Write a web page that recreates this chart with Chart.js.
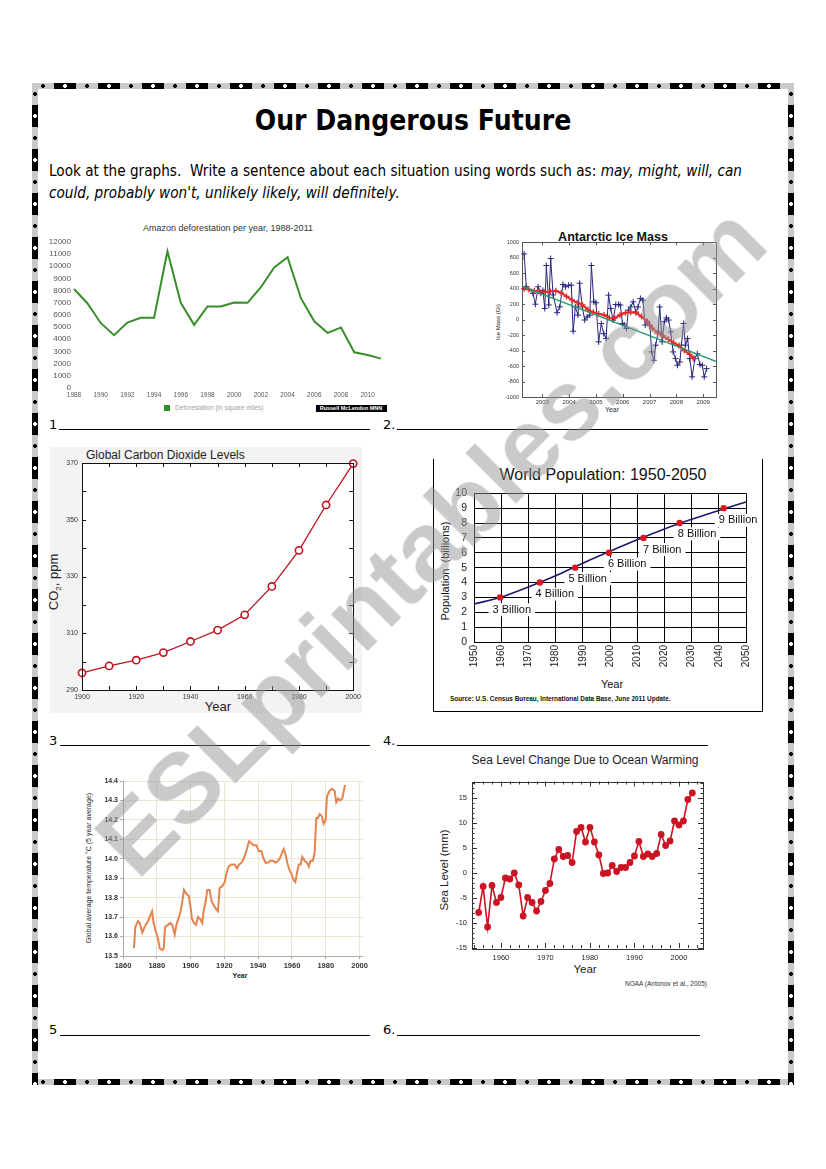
<!DOCTYPE html>
<html><head><meta charset="utf-8">
<title>Our Dangerous Future</title>
<script src="https://cdn.jsdelivr.net/npm/chart.js@4.4.1/dist/chart.umd.min.js"></script>
<style>
html,body{margin:0;padding:0;background:#fff;}
body{position:relative;width:826px;height:1169px;overflow:hidden;font-family:"Liberation Sans",Arial,sans-serif;color:#000;}
canvas{position:absolute;}
.hb{position:absolute;height:6px;
 background:
  radial-gradient(circle at 33px 3px,#fff 0 1.7px,transparent 2.2px) 0 0/44px 6px repeat-x,
  radial-gradient(circle at 11px 3px,#000 0 1.7px,transparent 2.2px) 0 0/44px 6px repeat-x,
  repeating-linear-gradient(90deg,#c9c9c9 0 22px,#000 22px 44px);}
.vb{position:absolute;width:6px;
 background:
  radial-gradient(circle at 3px 33px,#fff 0 1.7px,transparent 2.2px) 0 0/6px 44px repeat-y,
  radial-gradient(circle at 3px 11px,#000 0 1.7px,transparent 2.2px) 0 0/6px 44px repeat-y,
  repeating-linear-gradient(180deg,#c9c9c9 0 22px,#000 22px 44px);}
.t{position:absolute;white-space:nowrap;line-height:1;}
.ul{position:absolute;height:0;border-top:1.3px solid #000;}
.hand{font-family:"DejaVu Sans",sans-serif;}
</style></head><body>
<div class="hb" style="left:32px;top:83px;width:762px"></div>
<div class="hb" style="left:32px;top:1079px;width:762px"></div>
<div class="vb" style="left:32px;top:83px;height:1002px"></div>
<div class="vb" style="left:788px;top:83px;height:1002px"></div>

<div id="title" class="t hand" style="left:413px;top:121px;font-weight:bold;font-size:28px;transform:translate(-50%,-50%)">Our Dangerous Future</div>
<div id="ins1" class="t hand" style="left:49px;top:171px;font-size:15px;transform-origin:0 50%;transform:translate(0,-50%)">Look at the graphs.&nbsp; Write a sentence about each situation using words such as: <i>may, might, will, can</i></div>
<div id="ins2" class="t hand" style="left:49px;top:193px;font-size:15px;transform-origin:0 50%;transform:translate(0,-50%)"><i>could, probably won't, unlikely likely, will definitely.</i></div>

<div class="t hand" style="left:49px;top:418px;font-size:13px">1</div>
<div class="ul" style="left:59px;top:429px;width:311px"></div>
<div class="t hand" style="left:383px;top:418px;font-size:13px">2.</div>
<div class="ul" style="left:397px;top:429px;width:311px"></div>
<div class="t hand" style="left:49px;top:734px;font-size:13px">3</div>
<div class="ul" style="left:60px;top:745px;width:310px"></div>
<div class="t hand" style="left:383px;top:734px;font-size:13px">4.</div>
<div class="ul" style="left:397px;top:745px;width:311px"></div>
<div class="t hand" style="left:49px;top:1023px;font-size:13px">5</div>
<div class="ul" style="left:60px;top:1035px;width:310px"></div>
<div class="t hand" style="left:383px;top:1023px;font-size:13px">6.</div>
<div class="ul" style="left:397px;top:1035px;width:303px"></div>

<div style="position:absolute;left:50px;top:447px;width:312px;height:266px;background:#f3f3f3"></div>
<div style="position:absolute;left:433px;top:459px;width:328px;height:252px;border-left:1.5px solid #000;border-right:1.5px solid #000;border-bottom:1.5px solid #000"></div>

<script>
// ================= DATA =================
// 1. Amazon deforestation (square miles)
const amazonYears = ['1988','1989','1990','1991','1992','1993','1994','1995','1996','1997','1998','1999','2000','2001','2002','2003','2004','2005','2006','2007','2008','2009','2010','2011'];
const amazonArea = [8130,6960,5340,4340,5370,5770,5770,11220,6990,5180,6690,6690,7020,6990,8270,9890,10730,7370,5470,4530,4960,2930,2710,2410];
const amazonYTicks = [0,1000,2000,3000,4000,5000,6000,7000,8000,9000,10000,11000,12000];

// 2. Antarctic ice mass (Gt)
const iceYears = [2002.32,2002.40,2002.65,2002.74,2002.84,2002.94,2003.02,2003.09,2003.15,2003.24,
  2003.31,2003.40,2003.55,2003.65,2003.77,2003.86,2003.98,2004.08,2004.15,2004.23,
  2004.33,2004.39,2004.49,2004.58,2004.67,2004.77,2004.83,2004.92,2005.00,2005.10,
  2005.20,2005.29,2005.38,2005.47,2005.55,2005.64,2005.74,2005.84,2005.91,2005.99,
  2006.06,2006.14,2006.21,2006.30,2006.39,2006.49,2006.57,2006.66,2006.75,2006.84,
  2006.92,2007.01,2007.08,2007.16,2007.23,2007.32,2007.38,2007.47,2007.55,2007.63,
  2007.71,2007.79,2007.88,2007.97,2008.04,2008.13,2008.19,2008.27,2008.34,2008.42,
  2008.50,2008.59,2008.69,2008.78,2008.88,2008.97,2009.04,2009.13];
const iceMass = [850,425,340,200,425,340,380,145,700,190,
  790,320,90,165,455,425,445,445,-150,165,
  58,470,165,-5,35,58,700,230,218,-287,
  -50,-180,-245,317,145,-5,196,196,188,-50,
  -70,-115,123,165,230,100,165,274,253,-70,
  -28,-70,-417,-525,-330,-158,165,-287,-28,24,
  -5,-158,-417,-504,-590,-547,-330,-50,-330,-245,
  -504,-740,-504,-440,-580,-590,-740,-633];
const iceSmoothYears = [2002.32,2002.5,2002.7,2002.9,2003.1,2003.3,2003.5,2003.7,2003.9,2004.1,2004.3,2004.5,2004.7,2004.9,2005.1,2005.3,2005.5,2005.7,2005.9,2006.1,2006.3,2006.5,2006.7,2006.9,2007.1,2007.3,2007.5,2007.7,2007.9,2008.1,2008.3,2008.5,2008.63];
const iceSmoothMass = [400,390,375,365,360,365,375,345,300,255,220,190,130,95,75,60,25,20,60,90,95,90,40,-20,-110,-170,-210,-255,-300,-335,-400,-450,-500];
const iceTrendYears = [2002.24,2009.48];
const iceTrendMass = [430,-540];
const iceXTicks = [2003,2004,2005,2006,2007,2008,2009];
const iceYTicks = [-1000,-800,-600,-400,-200,0,200,400,600,800,1000];

// 3. Global CO2 (ppm)
const co2Years = [1900,1910,1920,1930,1940,1950,1960,1970,1980,1990,2000];
const co2Ppm = [296,298.5,300.5,303.2,307.1,311.1,316.5,326.5,339.2,355.2,369.8];
const co2XTicks = [1900,1920,1940,1960,1980,2000];
const co2YTicks = [290,310,330,350,370];
const co2XMinor = [1900,1910,1920,1930,1940,1950,1960,1970,1980,1990,2000];
const co2YMinor = [290,300,310,320,330,340,350,360,370];

// 4. World population (billions)
const popYears = [1950,1960,1970,1980,1990,2000,2010,2020,2030,2040,2050];
const popBillions = [2.55,3.02,3.70,4.45,5.30,6.10,6.87,7.60,8.25,8.85,9.42];
const milestoneYears = [1959.6,1974.2,1987.2,1999.6,2012.3,2025.6,2041.8];
const milestoneBillions = [3,4,5,6,7,8,9];
const milestoneLabels = ['3 Billion','4 Billion','5 Billion','6 Billion','7 Billion','8 Billion','9 Billion'];
const milestoneLabelX = [1963.9,1979.7,1991.8,2006.3,2019.2,2032.0,2047.1];
const milestoneLabelY = [2.17,3.22,4.26,5.24,6.22,7.27,8.18];
const popXTicks = [1950,1960,1970,1980,1990,2000,2010,2020,2030,2040,2050];
const popYTicks = [0,1,2,3,4,5,6,7,8,9,10];

// 5. Global average temperature (°C, 5 year average)
const tempYears = [1866.5,1867.3,1868.9,1869.9,1871.4,1872.8,1874.8,1876.2,1877.2,1878.1,
  1879.3,1880.7,1881.7,1883.3,1884.1,1884.9,1886.6,1888,1889.2,1890.6,
  1891.6,1893.1,1894.1,1895.1,1896.1,1897.5,1898.9,1900,1900.8,1902,
  1903.2,1904.4,1905.8,1906.9,1907.7,1908.9,1909.9,1911.3,1912.5,1913.8,
  1915.2,1916.2,1917.2,1918.8,1920.2,1921.1,1922.5,1924.1,1926.1,1927.5,
  1928.6,1930.2,1931.4,1933,1934.6,1936,1937.3,1938.9,1940.3,1941.9,
  1943.2,1944.4,1945.8,1947.2,1948.8,1950.3,1951.7,1952.7,1954.1,1955.1,
  1956.3,1957.2,1958.6,1959.8,1961,1962,1963,1964,1965.1,1966.1,
  1967.5,1968.9,1970,1971,1972.4,1973.4,1974.4,1975.4,1976.4,1977.6,
  1978.7,1979.9,1980.7,1982.3,1983.7,1985.2,1986.2,1987.4,1988.6,1989.8,
  1991.4];
const tempC = [13.54,13.65,13.68,13.67,13.62,13.65,13.68,13.71,13.73,13.67,
  13.63,13.59,13.54,13.53,13.54,13.65,13.66,13.67,13.66,13.61,
  13.66,13.70,13.73,13.78,13.84,13.82,13.81,13.75,13.69,13.67,
  13.66,13.70,13.69,13.67,13.73,13.78,13.84,13.84,13.78,13.76,
  13.74,13.73,13.85,13.86,13.88,13.92,13.96,13.97,13.97,13.95,
  13.97,13.98,14.00,14.04,14.09,14.08,14.07,14.07,14.04,14.04,
  14.00,13.98,13.98,13.99,13.99,13.98,13.99,14.00,14.03,14.05,
  14.02,13.98,13.94,13.92,13.89,13.88,13.93,13.97,13.97,14.01,
  13.99,13.98,13.96,13.99,13.99,14.03,14.21,14.21,14.23,14.22,
  14.18,14.20,14.32,14.35,14.36,14.35,14.29,14.31,14.30,14.31,
  14.38];
const tempXTicks = [1860,1880,1900,1920,1940,1960,1980,2000];
const tempYTicks = [13.5,13.6,13.7,13.8,13.9,14.0,14.1,14.2,14.3,14.4];

// 6. Sea level change (mm)
const seaYears = [1955,1956,1957,1958,1959,1960,1961,1962,1963,1964,
  1965,1966,1967,1968,1969,1970,1971,1972,1973,1974,
  1975,1976,1977,1978,1979,1980,1981,1982,1983,1984,
  1985,1986,1987,1988,1989,1990,1991,1992,1993,1994,
  1995,1996,1997,1998,1999,2000,2001,2002,2003];
const seaLevel = [-7.9,-2.7,-10.8,-2.5,-5.9,-4.9,-1.0,-1.2,0.0,-2.4,
  -8.6,-4.9,-5.9,-7.6,-5.7,-3.5,-2.1,2.8,4.7,3.3,
  3.5,2.1,8.3,9.1,6.2,9.1,6.2,3.6,-0.1,0.0,
  1.5,0.3,1.1,1.1,2.1,3.4,6.3,3.3,3.8,3.3,
  3.9,7.7,5.5,6.4,10.4,9.6,10.4,14.7,16.0];
const seaXTicks = [1960,1970,1980,1990,2000];
const seaYTicks = [-15,-10,-5,0,5,10,15];
const seaXMinor = [1954,1956,1958,1962,1964,1966,1968,1972,1974,1976,1978,1982,1984,1986,1988,1992,1994,1996,1998,2002,2004];
const seaYMinor = [-14,-13,-12,-11,-9,-8,-7,-6,-4,-3,-2,-1,1,2,3,4,6,7,8,9,11,12,13,14,16,17,18];

// ================= HELPERS =================
Chart.defaults.font.family = '"Liberation Sans", Arial, sans-serif';
Chart.defaults.color = '#222';

function mkCanvas(x, y, w, h) {
  const c = document.createElement('canvas');
  c.width = w; c.height = h;
  c.style.left = x + 'px'; c.style.top = y + 'px';
  c.style.width = w + 'px'; c.style.height = h + 'px';
  document.body.appendChild(c);
  return c.getContext('2d');
}
function put(html, x, y, css, align, rot) {
  const d = document.createElement('div');
  d.className = 't';
  d.innerHTML = html;
  d.style.cssText += 'left:' + x + 'px;top:' + y + 'px;' + (css || '');
  const tx = align === 'l' ? '0' : align === 'r' ? '-100%' : '-50%';
  d.style.transform = 'translate(' + tx + ',-50%)' + (rot ? ' rotate(' + rot + 'deg)' : '');
  document.body.appendChild(d);
  return d;
}
function base(pad, scales) {
  return { responsive:false, maintainAspectRatio:false, animation:false, events:[],
    layout:{padding:pad},
    plugins:{legend:{display:false}, tooltip:{enabled:false}, title:{display:false}},
    scales };
}
const fixTicks = values => s => { s.ticks = values.map(v => ({value:v})); };
const xy = (xs, ys) => xs.map((x, i) => ({x, y: ys[i]}));
const str = v => String(v);
const noGrid = {display:false, drawTicks:false};
const noBorder = {display:false};

function framePlug(cfg) {
  return {
    id: 'frame',
    beforeDraw(chart) {
      if (!cfg.fill) return;
      const a = chart.chartArea, ctx = chart.ctx;
      ctx.save(); ctx.fillStyle = cfg.fill;
      ctx.fillRect(a.left, a.top, a.right - a.left, a.bottom - a.top);
      ctx.restore();
    },
    afterDatasetsDraw(chart) {
      const a = chart.chartArea, ctx = chart.ctx;
      ctx.save();
      ctx.strokeStyle = cfg.color; ctx.lineWidth = cfg.width;
      ctx.strokeRect(Math.round(a.left) + 0.5, Math.round(a.top) + 0.5, Math.round(a.right - a.left), Math.round(a.bottom - a.top));
      (cfg.ticks || []).forEach(t => {
        const sc = chart.scales[t.axis];
        t.values.forEach(v => {
          const p = Math.round(sc.getPixelForValue(v)) + 0.5;
          ctx.beginPath();
          if (t.axis === 'x') {
            if (t.sides.includes('bottom')) { ctx.moveTo(p, a.bottom); ctx.lineTo(p, a.bottom - t.len); }
            if (t.sides.includes('top')) { ctx.moveTo(p, a.top); ctx.lineTo(p, a.top + t.len); }
          } else {
            if (t.sides.includes('left')) { ctx.moveTo(a.left, p); ctx.lineTo(a.left + t.len, p); }
            if (t.sides.includes('right')) { ctx.moveTo(a.right, p); ctx.lineTo(a.right - t.len, p); }
          }
          ctx.stroke();
        });
      });
      ctx.restore();
    }
  };
}

// ================= CHART 1: Amazon =================
put('Amazon deforestation per year, 1988-2011', 228, 228, 'font-size:9px;color:#333;');
new Chart(mkCanvas(40, 234, 350, 168), {
  type: 'line',
  data: { labels: amazonYears, datasets: [{ data: amazonArea, borderColor: '#3a8d2b', borderWidth: 2, pointRadius: 0, tension: 0 }] },
  options: base({top:7, right:9, left:0, bottom:0}, {
    x: { type:'category', offset:false, grid:noGrid, border:noBorder,
      ticks:{autoSkip:false, maxRotation:0, minRotation:0, padding:3, color:'#555', font:{size:6.5}, callback:(v, i) => i % 2 === 0 ? amazonYears[i] : ''},
      afterFit: s => { s.height = 14; } },
    y: { min:0, max:12000, grid:noGrid, border:noBorder, afterBuildTicks: fixTicks(amazonYTicks),
      ticks:{autoSkip:false, padding:3, color:'#555', font:{size:8}, callback:str}, afterFit: s => { s.width = 34; } }
  })
});
(function(){
  const sq = document.createElement('div');
  sq.style.cssText = 'position:absolute;left:164px;top:405px;width:6px;height:6px;background:#2a8f24;';
  document.body.appendChild(sq);
  put('Deforestation (in square miles)', 175, 408, 'font-size:6.5px;color:#a0a0a0;', 'l');
  const bx = document.createElement('div');
  bx.style.cssText = 'position:absolute;left:316px;top:405px;width:71px;height:7px;background:#000;';
  document.body.appendChild(bx);
  put('Russell McLendon MNN', 351, 408.5, 'font-size:5.5px;font-weight:bold;color:#fff;');
})();

// ================= CHART 2: Antarctic Ice Mass =================
put('Antarctic Ice Mass', 613, 237, 'font-size:12.5px;font-weight:bold;color:#111;');
put('Ice Mass (Gt)', 498, 322, 'font-size:6px;color:#222;', 'c', -90);
put('Year', 612, 409, 'font-size:7px;color:#333;');
new Chart(mkCanvas(490, 236, 232, 172), {
  type: 'line',
  data: { datasets: [
    { data: xy(iceTrendYears, iceTrendMass), borderColor:'#1f9a68', borderWidth:1.5, pointRadius:0, clip:false },
    { data: xy(iceSmoothYears, iceSmoothMass), borderColor:'#e42a2a', borderWidth:2, pointStyle:'cross', pointRadius:3, pointBorderColor:'#e42a2a', pointBorderWidth:1.3, clip:false },
    { data: xy(iceYears, iceMass), borderColor:'#26267e', borderWidth:1, pointStyle:'cross', pointRadius:3, pointBorderColor:'#26267e', pointBorderWidth:1, clip:false }
  ]},
  options: base({top:6, right:6, left:0, bottom:0}, {
    x: { type:'linear', min:2002.24, max:2009.48, grid:noGrid, border:noBorder, afterBuildTicks: fixTicks(iceXTicks),
      ticks:{autoSkip:false, padding:2, font:{size:6}, color:'#333', callback:str}, afterFit: s => { s.height = 11; } },
    y: { min:-1000, max:1000, grid:noGrid, border:noBorder, afterBuildTicks: fixTicks(iceYTicks),
      ticks:{autoSkip:false, padding:3, font:{size:5.5}, color:'#333', callback:str}, afterFit: s => { s.width = 32; } }
  }),
  plugins: [framePlug({color:'#555', width:1, ticks:[
    {axis:'x', values:iceXTicks, len:3, sides:['top','bottom']},
    {axis:'y', values:iceYTicks, len:3, sides:['left','right']}]})]
});

// ================= CHART 3: CO2 =================
put('Global Carbon Dioxide Levels', 86, 455, 'font-size:12px;color:#222;', 'l');
put('CO<sub style="font-size:8px">2</sub>, ppm', 55, 582, 'font-size:13px;color:#222;', 'c', -90);
put('Year', 218, 706, 'font-size:13px;color:#222;');
new Chart(mkCanvas(48, 449, 316, 254), {
  type: 'line',
  data: { datasets: [{ data: xy(co2Years, co2Ppm), borderColor:'#c3121f', borderWidth:1.3, pointRadius:3.6, pointBackgroundColor:'#fff', pointBorderColor:'#c3121f', pointBorderWidth:1.6, clip:false, tension:0 }] },
  options: base({top:14, right:7, left:0, bottom:0}, {
    x: { type:'linear', min:1900, max:2000, grid:noGrid, border:noBorder, afterBuildTicks: fixTicks(co2XTicks),
      ticks:{autoSkip:false, padding:3, font:{size:7}, color:'#333', callback:str}, afterFit: s => { s.height = 13; } },
    y: { min:290, max:370, grid:noGrid, border:noBorder, afterBuildTicks: fixTicks(co2YTicks),
      ticks:{autoSkip:false, padding:4, font:{size:7}, color:'#333', callback:str}, afterFit: s => { s.width = 34; } }
  }),
  plugins: [framePlug({fill:'#fff', color:'#111', width:1, ticks:[
    {axis:'x', values:co2XMinor, len:4, sides:['top','bottom']},
    {axis:'y', values:co2YMinor, len:4, sides:['left','right']}]})]
});

// ================= CHART 4: World Population =================
put('World Population: 1950-2050', 603, 475, 'font-size:16px;color:#111;');
put('Population&nbsp; (billions)', 445, 571, 'font-size:11px;color:#111;', 'c', -90);
put('Year', 612, 684, 'font-size:11px;color:#111;');
put('Source: U.S. Census Bureau, International Data Base, June 2011 Update.', 450, 699, 'font-size:6.4px;font-weight:bold;color:#111;', 'l');
const billionPlug = {
  id: 'billions',
  beforeDatasetsDraw(chart) {
    const ctx = chart.ctx, x = chart.scales.x, y = chart.scales.y;
    ctx.save();
    ctx.font = '11px "Liberation Sans", Arial, sans-serif';
    ctx.textAlign = 'center'; ctx.textBaseline = 'middle';
    milestoneLabels.forEach((t, i) => {
      const px = x.getPixelForValue(milestoneLabelX[i]);
      const py = y.getPixelForValue(milestoneLabelY[i]);
      const w = ctx.measureText(t).width;
      ctx.fillStyle = '#fff';
      ctx.fillRect(px - w / 2 - 4, py - 6.5, w + 8, 13);
      ctx.fillStyle = '#111';
      ctx.fillText(t, px, py);
    });
    ctx.restore();
  }
};
new Chart(mkCanvas(436, 480, 326, 198), {
  type: 'line',
  data: { datasets: [
    { data: xy(milestoneYears, milestoneBillions), showLine:false, pointRadius:3.2, pointBackgroundColor:'#e0141e', pointBorderColor:'#e0141e', borderWidth:0, clip:false },
    { data: xy(popYears, popBillions), borderColor:'#1c1a6e', borderWidth:1.6, pointRadius:0, cubicInterpolationMode:'monotone', clip:false }
  ]},
  options: base({top:9, right:16, left:0, bottom:0}, {
    x: { type:'linear', min:1950, max:2050, grid:{color:'#000', lineWidth:1, drawTicks:false}, border:{color:'#000', width:1},
      afterBuildTicks: fixTicks(popXTicks),
      ticks:{autoSkip:false, padding:3, font:{size:10}, color:'#222', minRotation:90, maxRotation:90, callback:str}, afterFit: s => { s.height = 36; } },
    y: { min:0, max:10, grid:{color:'#000', lineWidth:1, drawTicks:false}, border:{color:'#000', width:1},
      afterBuildTicks: fixTicks(popYTicks),
      ticks:{autoSkip:false, padding:7, font:{size:10.5}, color:'#222', callback:str}, afterFit: s => { s.width = 38; } }
  }),
  plugins: [billionPlug]
});

// ================= CHART 5: Temperature =================
put('Global average temperature &deg;C (5 year average)', 88, 868, 'font-size:7px;color:#222;', 'c', -90);
put('Year', 240, 975, 'font-size:7px;font-weight:bold;color:#222;');
new Chart(mkCanvas(100, 770, 270, 200), {
  type: 'line',
  data: { datasets: [{ data: xy(tempYears, tempC), borderColor:'#e5834d', borderWidth:2, pointRadius:0, tension:0, clip:false }] },
  options: base({top:11, right:7, left:0, bottom:0}, {
    x: { type:'linear', min:1860, max:2002, grid:{color:'#efe3d3', lineWidth:1, tickLength:3, tickColor:'#aaa'}, border:{color:'#aaa'},
      afterBuildTicks: fixTicks(tempXTicks),
      ticks:{autoSkip:false, padding:2, font:{size:7.5, weight:'bold'}, color:'#333', callback:str}, afterFit: s => { s.height = 14; } },
    y: { min:13.5, max:14.4, grid:{color:'#efe3d3', lineWidth:1, tickLength:3, tickColor:'#aaa'}, border:{color:'#aaa'},
      afterBuildTicks: fixTicks(tempYTicks),
      ticks:{autoSkip:false, padding:2, font:{size:7, weight:'bold'}, color:'#333', callback:v => v.toFixed(1)}, afterFit: s => { s.width = 23; } }
  })
});

// ================= CHART 6: Sea level =================
put('Sea Level Change Due to Ocean Warming', 585, 760, 'font-size:12px;color:#222;');
put('Sea Level (mm)', 445, 870, 'font-size:11.5px;color:#222;', 'c', -90);
put('Year', 585, 970, 'font-size:11.5px;color:#222;');
put('NOAA (Antonov et al., 2005)', 707, 984, 'font-size:6.5px;color:#333;', 'r');
new Chart(mkCanvas(450, 772, 260, 192), {
  type: 'line',
  data: { datasets: [{ data: xy(seaYears, seaLevel), borderColor:'#cc1424', borderWidth:1.6, pointRadius:2.6, pointBackgroundColor:'#cc1424', pointBorderColor:'#cc1424', tension:0, clip:false }] },
  options: base({top:6, right:7, left:0, bottom:0}, {
    x: { type:'linear', min:1953.5, max:2005.4, grid:noGrid, border:noBorder, afterBuildTicks: fixTicks(seaXTicks),
      ticks:{autoSkip:false, padding:5, font:{size:7.5}, color:'#222', callback:str}, afterFit: s => { s.height = 16; } },
    y: { min:-15, max:18.3, grid:noGrid, border:noBorder, afterBuildTicks: fixTicks(seaYTicks),
      ticks:{autoSkip:false, padding:5, font:{size:7.5}, color:'#222', callback:str}, afterFit: s => { s.width = 22; } }
  }),
  plugins: [framePlug({color:'#333', width:1, ticks:[
    {axis:'x', values:seaXTicks, len:5, sides:['top','bottom']},
    {axis:'x', values:seaXMinor, len:3, sides:['top','bottom']},
    {axis:'y', values:seaYTicks, len:5, sides:['left','right']},
    {axis:'y', values:seaYMinor, len:2.5, sides:['left','right']}]})]
});

// ================= watermark =================
put('ESLprintables.com', 430, 540, 'font-size:99px;font-weight:bold;color:rgba(150,150,150,0.5);pointer-events:none;z-index:5;', 'c', -45);

// ================= fit header text widths =================
function fitW(id, w, centered) {
  const el = document.getElementById(id);
  const s = w / el.offsetWidth;
  el.style.transform = (centered ? 'translate(-50%,-50%)' : 'translate(0,-50%)') + ' scaleX(' + s + ')';
}
fitW('title', 317, true);
fitW('ins1', 693, false);
fitW('ins2', 351, false);
</script>
</body></html>
